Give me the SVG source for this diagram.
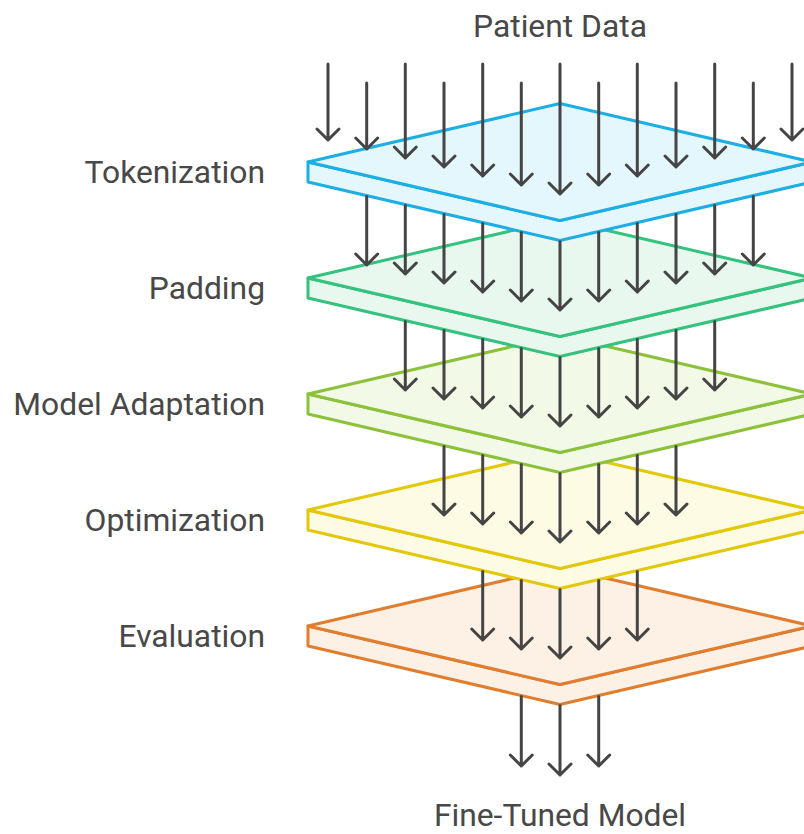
<svg xmlns="http://www.w3.org/2000/svg" width="804" height="834" viewBox="0 0 804 834">
  <style>
    .lbl { font-family: Roboto, "Liberation Sans", sans-serif; font-size: 31.8px; fill: #484848; }
    .slab path { stroke-width: 3; stroke-linejoin: round; }
    .l1 path { fill: #E4F7FD; stroke: #1DAEE3; }
    .l2 path { fill: #E8F8EF; stroke: #34C27F; }
    .l3 path { fill: #F2F9E7; stroke: #8BC23A; }
    .l4 path { fill: #FEFBE4; stroke: #E3C80A; }
    .l5 path { fill: #FDF0E4; stroke: #E07D2E; }
    .arr path { fill: none; stroke: #454545; stroke-width: 3; stroke-linecap: round; stroke-linejoin: round; }
  </style>

  <text id="input" class="lbl" x="560" y="37" text-anchor="middle">Patient Data</text>

  <g id="evaluation" class="slab l5" transform="translate(0,626)">
    <path d="M308,0 L308,20 L560,78.5 L812,20 L812,0 L560,58.5 Z"/>
    <path d="M560,-58.5 L812,0 L560,58.5 L308,0 Z"/>
    <text class="lbl" x="265" y="21" text-anchor="end">Evaluation</text>
  </g>
  <g id="optimization" class="slab l4" transform="translate(0,510)">
    <path d="M308,0 L308,20 L560,78.5 L812,20 L812,0 L560,58.5 Z"/>
    <path d="M560,-58.5 L812,0 L560,58.5 L308,0 Z"/>
    <text class="lbl" x="265" y="21" text-anchor="end">Optimization</text>
  </g>
  <g id="model-adaptation" class="slab l3" transform="translate(0,394)">
    <path d="M308,0 L308,20 L560,78.5 L812,20 L812,0 L560,58.5 Z"/>
    <path d="M560,-58.5 L812,0 L560,58.5 L308,0 Z"/>
    <text class="lbl" x="265" y="21" text-anchor="end">Model Adaptation</text>
  </g>
  <g id="padding" class="slab l2" transform="translate(0,278)">
    <path d="M308,0 L308,20 L560,78.5 L812,20 L812,0 L560,58.5 Z"/>
    <path d="M560,-58.5 L812,0 L560,58.5 L308,0 Z"/>
    <text class="lbl" x="265" y="21" text-anchor="end">Padding</text>
  </g>
  <g id="tokenization" class="slab l1" transform="translate(0,162)">
    <path d="M308,0 L308,20 L560,78.5 L812,20 L812,0 L560,58.5 Z"/>
    <path d="M560,-58.5 L812,0 L560,58.5 L308,0 Z"/>
    <text class="lbl" x="265" y="21" text-anchor="end">Tokenization</text>
  </g>

  <g id="connectors" class="arr">
    <!-- into Tokenization -->
    <path d="M328,64 V140 M317,129 L328,140 L339,129"/>
    <path d="M366.7,83 V149 M355.7,138 L366.7,149 L377.7,138"/>
    <path d="M405.3,64 V158 M394.3,147 L405.3,158 L416.3,147"/>
    <path d="M444,83 V167 M433,156 L444,167 L455,156"/>
    <path d="M482.7,64 V176 M471.7,165 L482.7,176 L493.7,165"/>
    <path d="M521.3,83 V185 M510.3,174 L521.3,185 L532.3,174"/>
    <path d="M560,64 V194 M549,183 L560,194 L571,183"/>
    <path d="M598.7,83 V185 M587.7,174 L598.7,185 L609.7,174"/>
    <path d="M637.3,64 V176 M626.3,165 L637.3,176 L648.3,165"/>
    <path d="M676,83 V167 M665,156 L676,167 L687,156"/>
    <path d="M714.7,64 V158 M703.7,147 L714.7,158 L725.7,147"/>
    <path d="M753.3,83 V149 M742.3,138 L753.3,149 L764.3,138"/>
    <path d="M792,64 V140 M781,129 L792,140 L803,129"/>
    <!-- into Padding -->
    <path d="M366.7,196.5 V265 M355.7,254 L366.7,265 L377.7,254"/>
    <path d="M405.3,205.5 V274 M394.3,263 L405.3,274 L416.3,263"/>
    <path d="M444,214.5 V283 M433,272 L444,283 L455,272"/>
    <path d="M482.7,223.5 V292 M471.7,281 L482.7,292 L493.7,281"/>
    <path d="M521.3,232.5 V301 M510.3,290 L521.3,301 L532.3,290"/>
    <path d="M560,241.5 V310 M549,299 L560,310 L571,299"/>
    <path d="M598.7,232.5 V301 M587.7,290 L598.7,301 L609.7,290"/>
    <path d="M637.3,223.5 V292 M626.3,281 L637.3,292 L648.3,281"/>
    <path d="M676,214.5 V283 M665,272 L676,283 L687,272"/>
    <path d="M714.7,205.5 V274 M703.7,263 L714.7,274 L725.7,263"/>
    <path d="M753.3,196.5 V265 M742.3,254 L753.3,265 L764.3,254"/>
    <!-- into Model Adaptation -->
    <path d="M405.3,321.5 V390 M394.3,379 L405.3,390 L416.3,379"/>
    <path d="M444,330.5 V399 M433,388 L444,399 L455,388"/>
    <path d="M482.7,339.5 V408 M471.7,397 L482.7,408 L493.7,397"/>
    <path d="M521.3,348.5 V417 M510.3,406 L521.3,417 L532.3,406"/>
    <path d="M560,357.5 V426 M549,415 L560,426 L571,415"/>
    <path d="M598.7,348.5 V417 M587.7,406 L598.7,417 L609.7,406"/>
    <path d="M637.3,339.5 V408 M626.3,397 L637.3,408 L648.3,397"/>
    <path d="M676,330.5 V399 M665,388 L676,399 L687,388"/>
    <path d="M714.7,321.5 V390 M703.7,379 L714.7,390 L725.7,379"/>
    <!-- into Optimization -->
    <path d="M444,446.5 V515 M433,504 L444,515 L455,504"/>
    <path d="M482.7,455.5 V524 M471.7,513 L482.7,524 L493.7,513"/>
    <path d="M521.3,464.5 V533 M510.3,522 L521.3,533 L532.3,522"/>
    <path d="M560,473.5 V542 M549,531 L560,542 L571,531"/>
    <path d="M598.7,464.5 V533 M587.7,522 L598.7,533 L609.7,522"/>
    <path d="M637.3,455.5 V524 M626.3,513 L637.3,524 L648.3,513"/>
    <path d="M676,446.5 V515 M665,504 L676,515 L687,504"/>
    <!-- into Evaluation -->
    <path d="M482.7,571.5 V640 M471.7,629 L482.7,640 L493.7,629"/>
    <path d="M521.3,580.5 V649 M510.3,638 L521.3,649 L532.3,638"/>
    <path d="M560,589.5 V658 M549,647 L560,658 L571,647"/>
    <path d="M598.7,580.5 V649 M587.7,638 L598.7,649 L609.7,638"/>
    <path d="M637.3,571.5 V640 M626.3,629 L637.3,640 L648.3,629"/>
    <!-- to Fine-Tuned Model -->
    <path d="M521.3,696.5 V766 M510.3,755 L521.3,766 L532.3,755"/>
    <path d="M560,705.5 V775 M549,764 L560,775 L571,764"/>
    <path d="M598.7,696.5 V766 M587.7,755 L598.7,766 L609.7,755"/>
  </g>

  <text id="output" class="lbl" x="560" y="826" text-anchor="middle">Fine-Tuned Model</text>
</svg>
